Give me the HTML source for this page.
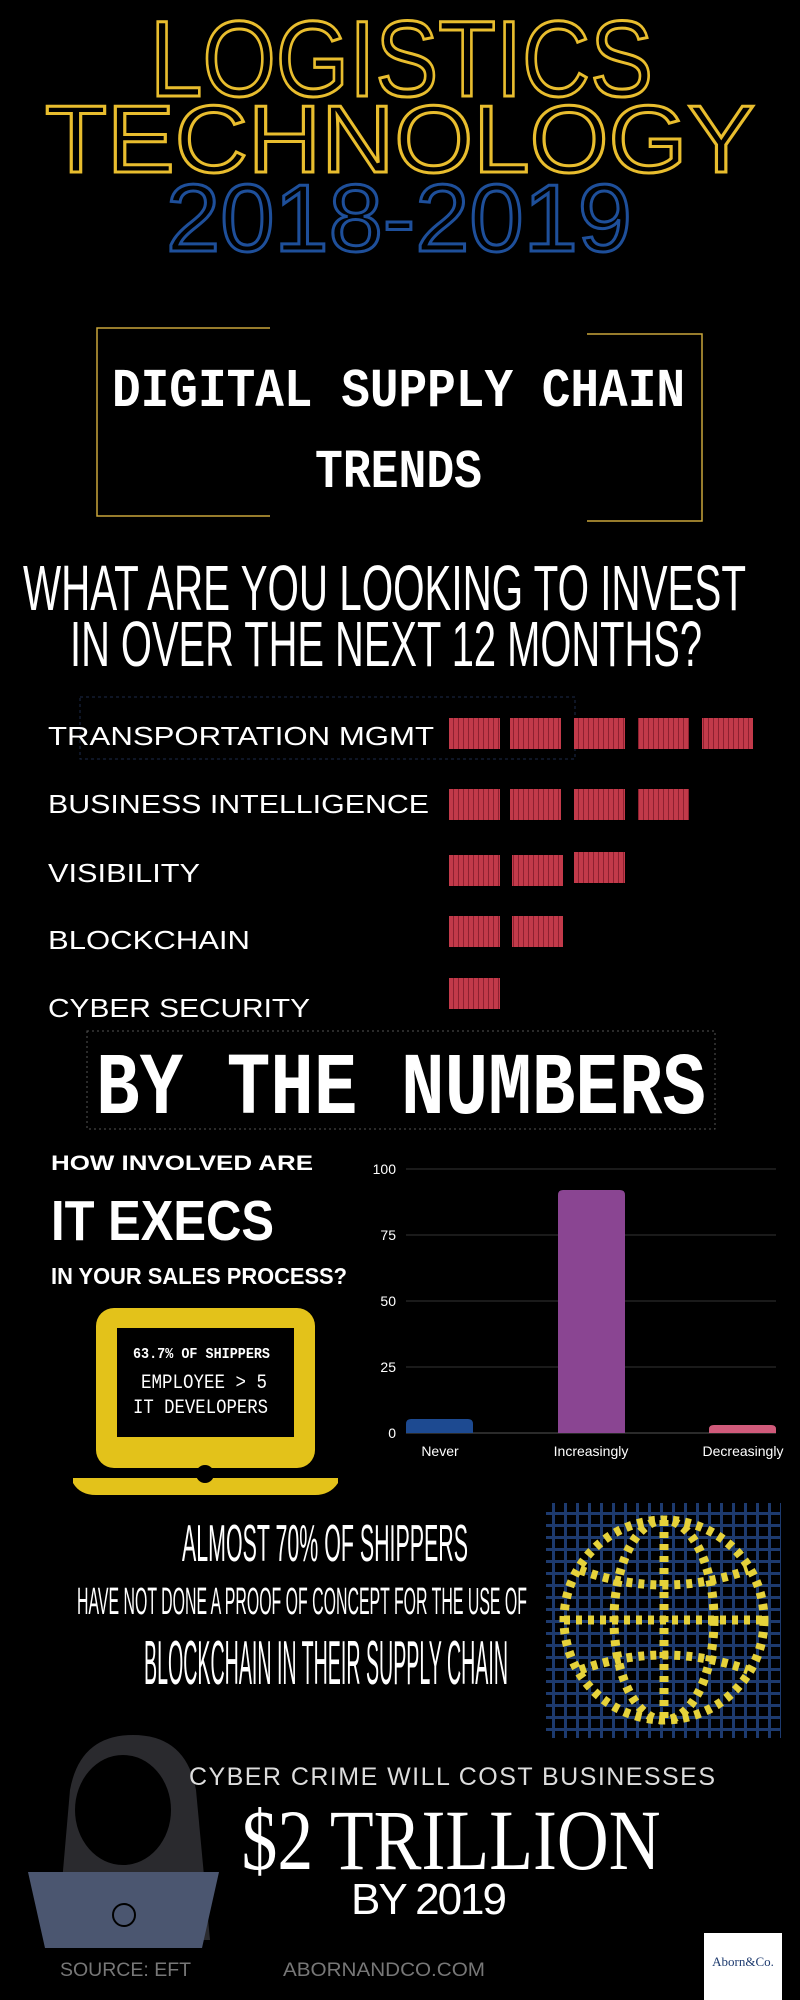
<!DOCTYPE html>
<html><head><meta charset="utf-8"><style>
html,body{margin:0;padding:0;background:#000;}
svg{display:block}
</style></head><body>
<svg width="800" height="2000" viewBox="0 0 800 2000" xmlns="http://www.w3.org/2000/svg">
<defs>
<pattern id="grid" width="12" height="12" patternUnits="userSpaceOnUse">
<rect width="12" height="12" fill="#000"/>
<rect x="0" y="0" width="3" height="12" fill="#1d3a6e"/>
<rect x="0" y="0" width="12" height="3" fill="#1d3a6e"/>
</pattern>
<pattern id="crate" width="5" height="31" patternUnits="userSpaceOnUse">
<rect width="5" height="31" fill="#c23a4a"/>
<rect x="3" width="1" height="31" fill="#8e2030"/>
</pattern>
</defs>
<rect width="800" height="2000" fill="#000"/>
<g font-family="Liberation Sans, DejaVu Sans, sans-serif" fill="none" stroke-width="3" text-anchor="start">
<text x="150" y="96" font-size="108" stroke="#e8bd2e" textLength="503" lengthAdjust="spacingAndGlyphs">LOGISTICS</text>
<text x="45" y="172" font-size="96" stroke="#e8bd2e" textLength="710" lengthAdjust="spacingAndGlyphs">TECHNOLOGY</text>
<text x="166" y="251" font-size="96" stroke="#1e4f9a" textLength="466" lengthAdjust="spacingAndGlyphs">2018-2019</text>
</g>
<g stroke="#c9a63a" stroke-width="1.5" fill="none">
<polyline points="270,328 97,328 97,516 270,516"/>
<polyline points="587,334 702,334 702,521 587,521"/>
</g>
<g fill="#fff" font-family="Liberation Mono, monospace" font-weight="bold">
<text x="112" y="406" font-size="55" textLength="573" lengthAdjust="spacingAndGlyphs">DIGITAL SUPPLY CHAIN</text>
<text x="315" y="487" font-size="55" textLength="167" lengthAdjust="spacingAndGlyphs">TRENDS</text>
<text x="96" y="1113" font-size="88" textLength="610" lengthAdjust="spacingAndGlyphs">BY THE NUMBERS</text>
</g>
<rect x="80" y="697" width="495" height="62" fill="none" stroke="#1d2a4a" stroke-dasharray="3,3"/>
<rect x="87" y="1031" width="628" height="98" fill="none" stroke="#555" stroke-dasharray="2,3"/>
<g fill="#fff" font-family="Liberation Sans Narrow, Liberation Sans, sans-serif">
<text x="23" y="610" font-size="64" textLength="723" lengthAdjust="spacingAndGlyphs">WHAT ARE YOU LOOKING TO INVEST</text>
<text x="70" y="666" font-size="64" textLength="632" lengthAdjust="spacingAndGlyphs">IN OVER THE NEXT 12 MONTHS?</text>
</g>
<g fill="#fff" font-family="Liberation Sans, sans-serif" font-size="26">
<text x="48" y="745" textLength="386" lengthAdjust="spacingAndGlyphs">TRANSPORTATION MGMT</text>
<text x="48" y="813" textLength="381" lengthAdjust="spacingAndGlyphs">BUSINESS INTELLIGENCE</text>
<text x="48" y="882" textLength="152" lengthAdjust="spacingAndGlyphs">VISIBILITY</text>
<text x="48" y="949" textLength="202" lengthAdjust="spacingAndGlyphs">BLOCKCHAIN</text>
<text x="48" y="1017" textLength="262" lengthAdjust="spacingAndGlyphs">CYBER SECURITY</text>
</g>
<g fill="url(#crate)">
<rect x="449" y="718" width="51" height="31"/><rect x="510" y="718" width="51" height="31"/><rect x="574" y="718" width="51" height="31"/><rect x="638" y="718" width="51" height="31"/><rect x="702" y="718" width="51" height="31"/>
<rect x="449" y="789" width="51" height="31"/><rect x="510" y="789" width="51" height="31"/><rect x="574" y="789" width="51" height="31"/><rect x="638" y="789" width="51" height="31"/>
<rect x="449" y="855" width="51" height="31"/><rect x="512" y="855" width="51" height="31"/><rect x="574" y="852" width="51" height="31"/>
<rect x="449" y="916" width="51" height="31"/><rect x="512" y="916" width="51" height="31"/>
<rect x="449" y="978" width="51" height="31"/>
</g>
<g fill="#fff" font-family="Liberation Sans, sans-serif" font-weight="bold">
<text x="51" y="1170" font-size="21" textLength="262" lengthAdjust="spacingAndGlyphs">HOW INVOLVED ARE</text>
<text x="51" y="1240" font-size="57" textLength="223" lengthAdjust="spacingAndGlyphs">IT EXECS</text>
<text x="51" y="1284" font-size="23" textLength="296" lengthAdjust="spacingAndGlyphs">IN YOUR SALES PROCESS?</text>
</g>
<!-- laptop -->
<rect x="96" y="1308" width="219" height="160" rx="18" fill="#e3c21a"/>
<rect x="117" y="1328" width="177" height="109" fill="#000"/>
<path d="M73,1478 L338,1478 L338,1483 Q330,1495 315,1495 L96,1495 Q80,1495 73,1483 Z" fill="#e3c21a"/>
<circle cx="205" cy="1474" r="9" fill="#000"/>
<g fill="#fff" font-family="Liberation Mono, monospace">
<text x="133" y="1358" font-size="15" font-weight="bold" textLength="137" lengthAdjust="spacingAndGlyphs">63.7% OF SHIPPERS</text>
<text x="141" y="1388" font-size="20" textLength="126" lengthAdjust="spacingAndGlyphs">EMPLOYEE &gt; 5</text>
<text x="133" y="1413" font-size="20" textLength="135" lengthAdjust="spacingAndGlyphs">IT DEVELOPERS</text>
</g>
<!-- chart -->
<g stroke="#333" stroke-width="1">
<line x1="406" y1="1169" x2="776" y2="1169"/><line x1="406" y1="1235" x2="776" y2="1235"/>
<line x1="406" y1="1301" x2="776" y2="1301"/><line x1="406" y1="1367" x2="776" y2="1367"/>
<line x1="406" y1="1433" x2="776" y2="1433" stroke="#555"/>
</g>
<g fill="#fff" font-family="Liberation Sans, sans-serif" font-size="14">
<text x="396" y="1174" text-anchor="end">100</text><text x="396" y="1240" text-anchor="end">75</text>
<text x="396" y="1306" text-anchor="end">50</text><text x="396" y="1372" text-anchor="end">25</text>
<text x="396" y="1438" text-anchor="end">0</text>
<text x="440" y="1456" text-anchor="middle">Never</text>
<text x="591" y="1456" text-anchor="middle">Increasingly</text>
<text x="743" y="1456" text-anchor="middle">Decreasingly</text>
</g>
<path d="M406,1433 V1424 Q406,1419 411,1419 H468 Q473,1419 473,1424 V1433 Z" fill="#1d4a91"/>
<path d="M558,1433 V1195 Q558,1190 563,1190 H620 Q625,1190 625,1195 V1433 Z" fill="#8a4592"/>
<path d="M709,1433 V1429 Q709,1425 714,1425 H771 Q776,1425 776,1429 V1433 Z" fill="#d05a7a"/>
<!-- blockchain text -->
<g fill="#fff" font-family="Liberation Sans Narrow, Liberation Sans, sans-serif" text-anchor="middle">
<text x="325" y="1561" font-size="52" textLength="286" lengthAdjust="spacingAndGlyphs">ALMOST 70% OF SHIPPERS</text>
<text x="302" y="1614" font-size="38" textLength="450" lengthAdjust="spacingAndGlyphs">HAVE NOT DONE A PROOF OF CONCEPT FOR THE USE OF</text>
<text x="326" y="1684" font-size="62" textLength="364" lengthAdjust="spacingAndGlyphs">BLOCKCHAIN IN THEIR SUPPLY CHAIN</text>
</g>
<!-- globe -->
<rect x="546" y="1503" width="235" height="235" fill="url(#grid)"/>
<g fill="none" stroke="#e6d23a" stroke-width="9" stroke-dasharray="6,6">
<circle cx="664" cy="1620" r="100"/>
<ellipse cx="664" cy="1620" rx="50" ry="100"/>
<line x1="664" y1="1520" x2="664" y2="1720"/>
<line x1="564" y1="1620" x2="764" y2="1620"/>
<path d="M580,1570 Q664,1600 748,1570"/><path d="M580,1670 Q664,1640 748,1670"/>
</g>
<!-- hacker -->
<path d="M57,1940 L70,1790 Q80,1735 133,1735 Q186,1735 196,1790 L210,1940 Z" fill="#2a2a2e"/>
<ellipse cx="123" cy="1810" rx="48" ry="55" fill="#000"/>
<path d="M28,1872 L219,1872 L202,1948 L45,1948 Z" fill="#4b5670"/>
<circle cx="124" cy="1915" r="11" fill="none" stroke="#000" stroke-width="2"/>
<g fill="#fff" text-anchor="middle">
<text x="452" y="1785" font-family="Liberation Sans, sans-serif" font-size="25" textLength="526" lengthAdjust="spacing" fill="#ddd">CYBER CRIME WILL COST BUSINESSES</text>
<text x="451" y="1869" font-family="Liberation Serif, serif" font-size="86" textLength="419" lengthAdjust="spacingAndGlyphs">$2 TRILLION</text>
<text x="429" y="1914" font-family="Liberation Sans, sans-serif" font-size="44" textLength="156" lengthAdjust="spacing">BY 2019</text>
</g>
<g fill="#777" font-family="Liberation Sans, sans-serif" font-size="19">
<text x="60" y="1976" textLength="131" lengthAdjust="spacingAndGlyphs">SOURCE: EFT</text>
<text x="283" y="1976" textLength="202" lengthAdjust="spacingAndGlyphs">ABORNANDCO.COM</text>
</g>
<rect x="704" y="1933" width="78" height="67" fill="#fff"/>
<text x="743" y="1966" text-anchor="middle" font-family="Liberation Serif, serif" font-size="13" fill="#1d3a6e">Aborn&amp;Co.</text>
</svg>
</body></html>
